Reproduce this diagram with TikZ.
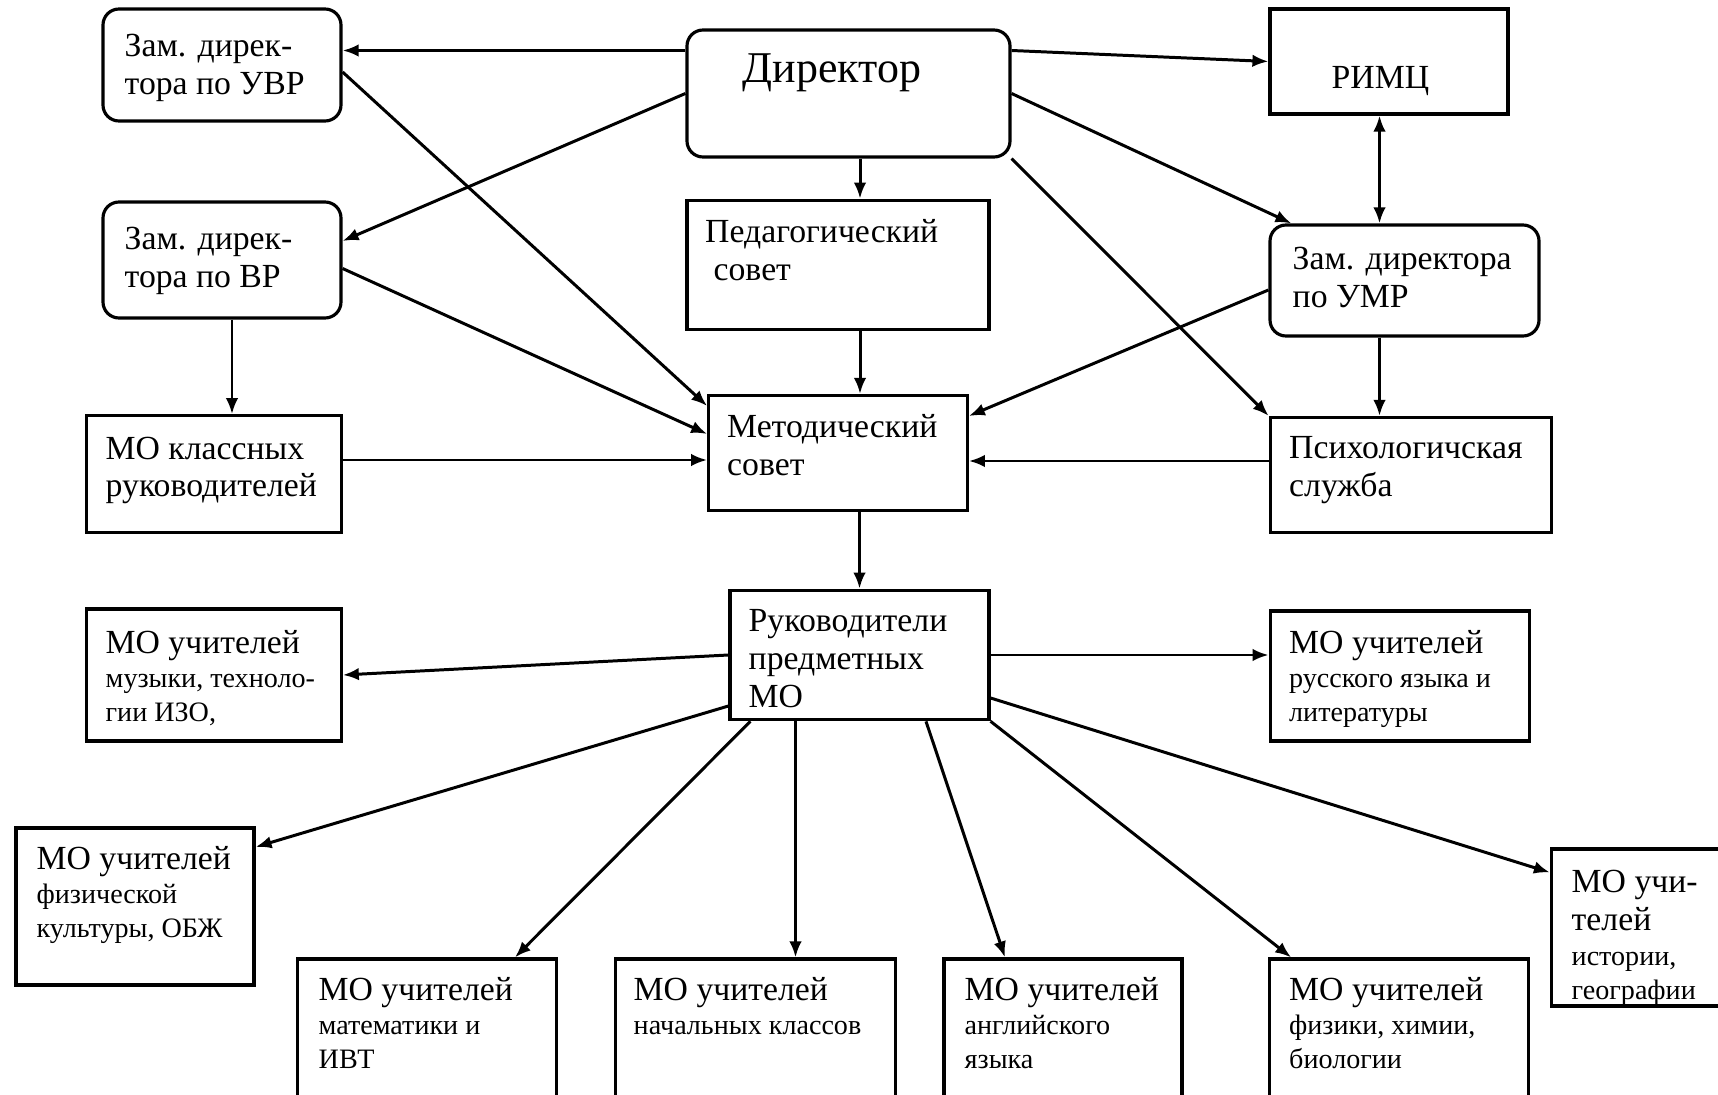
\documentclass[tikz,border=0pt]{standalone}
\usepackage{fontspec}
\setmainfont{Liberation Serif}
\usetikzlibrary{arrows.meta}

\newcommand\mainsz{\fontsize{9.6}{10.8}\selectfont}
\newcommand\smallsz{\fontsize{8}{9.6}\selectfont}

\begin{document}
\begin{tikzpicture}[x=1mm,y=-1mm,
  >={Latex[length=1.6mm,width=1.25mm]},
  box/.style={draw, line width=0.9pt, inner sep=0pt},
  rbox/.style={box, rounded corners=1.6mm},
  txt/.style={anchor=north west, inner sep=0pt, align=left, font=\mainsz},
  txts/.style={txt, font=\smallsz},
  conn/.style={->, line width=0.85pt},
  dconn/.style={<->, line width=0.85pt}]
\useasboundingbox (0,0) rectangle (171.8,109.5);

% boxes
\node[rbox, minimum width=23.8mm, minimum height=11.2mm] (uvr) at (22.2,6.5) {};
\node[rbox, minimum width=32.3mm, minimum height=12.7mm] (dir) at (84.85,9.35) {};
\node[box, minimum width=23.8mm, minimum height=10.5mm] (rimc) at (138.9,6.15) {};
\node[rbox, minimum width=23.8mm, minimum height=11.6mm] (vr) at (22.2,26) {};
\node[box, minimum width=30.2mm, minimum height=12.95mm] (ped) at (83.8,26.5) {};
\node[rbox, minimum width=26.9mm, minimum height=11.1mm] (umr) at (140.45,28.05) {};
\node[box, minimum width=25.45mm, minimum height=11.65mm] (mokl) at (21.4,47.4) {};
\node[box, minimum width=25.85mm, minimum height=11.5mm] (met) at (83.8,45.3) {};
\node[box, minimum width=28.15mm, minimum height=11.5mm] (psy) at (141.1,47.5) {};
\node[box, minimum width=25.9mm, minimum height=12.95mm] (ruk) at (85.95,65.5) {};
\node[box, minimum width=25.45mm, minimum height=13.2mm] (mus) at (21.4,67.5) {};
\node[box, minimum width=25.95mm, minimum height=13mm] (rus) at (140,67.6) {};
\node[box, minimum width=23.8mm, minimum height=15.7mm] (fiz) at (13.5,90.65) {};
\node[box, minimum width=25.85mm, minimum height=16mm] (mat) at (42.7,103.9) {};
\node[box, minimum width=27.95mm, minimum height=16mm] (nach) at (75.55,103.9) {};
\node[box, minimum width=23.8mm, minimum height=16mm] (eng) at (106.3,103.9) {};
\node[box, minimum width=25.85mm, minimum height=16mm] (phys) at (139.9,103.9) {};
\node[box, minimum width=24mm, minimum height=15.7mm] (hist) at (167.15,92.75) {};

% texts
\node[txt] (uvrt) at (12.4,3.3) {Зам. дирек-\\тора по УВР};
\node[txt, font=\fontsize{12.5}{14}\selectfont] (dirt) at (74.2,5.3) {Директор};
\node[txt] (rimct) at (133.1,6.6) {РИМЦ};
\node[txt] (vrt) at (12.4,22.6) {Зам. дирек-\\тора по ВР};
\node[txt] (pedt) at (70.45,21.9) {Педагогический\\\hspace{0.25em}совет};
\node[txt] (umrt) at (129.2,24.65) {Зам. директора\\по УМР};
\node[txt] (moklt) at (10.5,43.6) {МО классных\\руководителей};
\node[txt] (mett) at (72.65,41.4) {Методический\\совет};
\node[txt] (psyt) at (128.85,43.6) {Психологичская\\служба};
\node[txt] (rukt) at (74.8,60.9) {Руководители\\предметных\\МО};
\node[txts] (must) at (10.5,63) {{\mainsz МО учителей}\\музыки, техноло-\\гии ИЗО,};
\node[txts] (rust) at (128.85,63) {{\mainsz МО учителей}\\русского языка и\\литературы};
\node[txts] (fizt) at (3.6,84.6) {{\mainsz МО учителей}\\физической\\культуры, ОБЖ};
\node[txts] (matt) at (31.8,97.7) {{\mainsz МО учителей}\\математики и\\ИВТ};
\node[txts] (nacht) at (63.3,97.7) {{\mainsz МО учителей}\\начальных классов};
\node[txts] (engt) at (96.4,97.7) {{\mainsz МО учителей}\\английского\\языка};
\node[txts] (physt) at (128.85,97.7) {{\mainsz МО учителей}\\физики, химии,\\биологии};
\node[txts] (histt) at (157.1,86.9) {{\mainsz МО учи-}\\[1.2pt]{\mainsz телей}\\[0.6pt]истории,\\географии};

% connectors
\draw[conn] ([yshift=4.3mm]dir.west) -- ([yshift=4.3mm]dir.west -| uvr.east);
\draw[conn] ([yshift=4.3mm]dir.east) -- (rimc.west);
\draw[conn] (dir.west) -- ([yshift=1.9mm]vr.east);
\draw[conn] ([yshift=-0.7mm]uvr.east) -- ([yshift=4.7mm]met.west);
\draw[conn] ([yshift=-0.85mm]vr.east) -- ([yshift=1.9mm]met.west);
\draw[conn] ([xshift=1mm]vr.south) -- ([xshift=1mm]vr.south |- mokl.north);
\draw[conn] ([yshift=1.4mm]mokl.east) -- ([yshift=1.4mm]mokl.east -| met.west);
\draw[conn] ([xshift=1.15mm]dir.south) -- ([xshift=1.15mm]dir.south |- ped.north);
\draw[conn] ([xshift=2.2mm]ped.south) -- ([xshift=2.2mm]ped.south |- met.north);
\draw[conn] (met.south -| ruk.north) -- (ruk.north);
\draw[conn] (dir.east) -- ([xshift=2.3mm]umr.north west);
\draw[conn] (dir.south east) -- (psy.north west);
\draw[dconn] ([xshift=-0.95mm]rimc.south) -- ([xshift=-0.95mm]rimc.south |- umr.north);
\draw[conn] ([yshift=-0.95mm]umr.west) -- ([yshift=3.7mm]met.east);
\draw[conn] ([xshift=-0.95mm]rimc.south |- umr.south) -- ([xshift=-0.95mm]rimc.south |- psy.north);
\draw[conn] ([yshift=1.4mm]psy.west) -- ([yshift=1.4mm]psy.west -| met.east);
\draw[conn] (ruk.west) -- (mus.east);
\draw[conn] (ruk.east) -- (ruk.east -| rus.west);
\draw[conn] ([yshift=-5.1mm]ruk.west) -- ([yshift=5.95mm]fiz.east);
\draw[conn] ([xshift=2.2mm]ruk.south west) -- ([xshift=8.8mm]mat.north);
\draw[conn] ([xshift=4mm]nach.north |- ruk.south) -- ([xshift=4mm]nach.north);
\draw[conn] ([xshift=6.65mm]ruk.south) -- ([xshift=-5.8mm]eng.north);
\draw[conn] (ruk.south east) -- ([xshift=2.3mm]phys.north west);
\draw[conn] ([yshift=-4.3mm]ruk.east) -- ([yshift=5.5mm]hist.west);
\end{tikzpicture}
\end{document}
